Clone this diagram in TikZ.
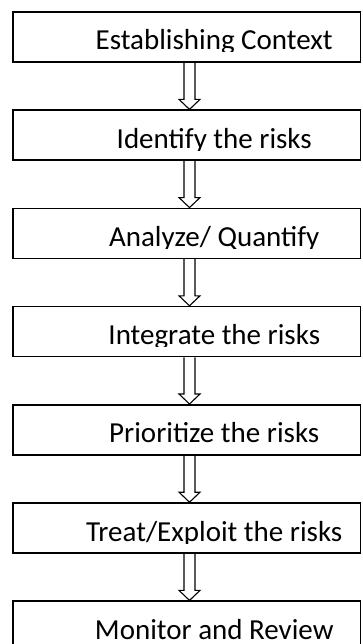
\documentclass[tikz,border=0pt]{standalone}
\usepackage{fontspec}
\setmainfont{Carlito}
\usetikzlibrary{arrows.meta, positioning}

\begin{document}
\begin{tikzpicture}[x=1pt, y=1pt, node distance=98.2pt,
  stepbox/.style={rectangle, draw, line width=1.6pt, minimum width=347.5pt, minimum height=50pt, inner sep=0pt},
  steptext/.style={path picture={
    \clip (path picture bounding box.north west) rectangle ([yshift=-40pt]path picture bounding box.north east);
    \node [anchor=base, inner sep=0pt, font=\fontsize{29}{34}\selectfont] at ([xshift=27.5pt, yshift=-38pt]path picture bounding box.north) {#1};}},
  blockarrow/.style={line width=1.1pt, to path={([xshift=-2.75pt]\tikztostart.south) -- ([xshift=-2.75pt, yshift=10pt]\tikztotarget.north) -- ([xshift=-7.75pt, yshift=10pt]\tikztotarget.north) -- ([xshift=2.75pt]\tikztotarget.north) -- ([xshift=13.25pt, yshift=10pt]\tikztotarget.north) -- ([xshift=8.25pt, yshift=10pt]\tikztotarget.north) -- ([xshift=8.25pt]\tikztostart.south)}}]
\useasboundingbox (0,0) rectangle (362,-644);
\node [stepbox, steptext={Establishing Context}] (ctx) at (186.75,-37) {};
\node [stepbox, steptext={Identify the risks}, below of=ctx] (ident) {};
\node [stepbox, steptext={Analyze/ Quantify}, below of=ident] (anal) {};
\node [stepbox, steptext={Integrate the risks}, below of=anal] (integ) {};
\node [stepbox, steptext={Prioritize the risks}, below of=integ] (prio) {};
\node [stepbox, steptext={Treat/Exploit the risks}, below of=prio] (treat) {};
\node [stepbox, steptext={Monitor and Review}, below of=treat] (mon) {};
\draw [blockarrow] (ctx) to (ident);
\draw [blockarrow] (ident) to (anal);
\draw [blockarrow] (anal) to (integ);
\draw [blockarrow] (integ) to (prio);
\draw [blockarrow] (prio) to (treat);
\draw [blockarrow] (treat) to (mon);
\end{tikzpicture}
\end{document}
